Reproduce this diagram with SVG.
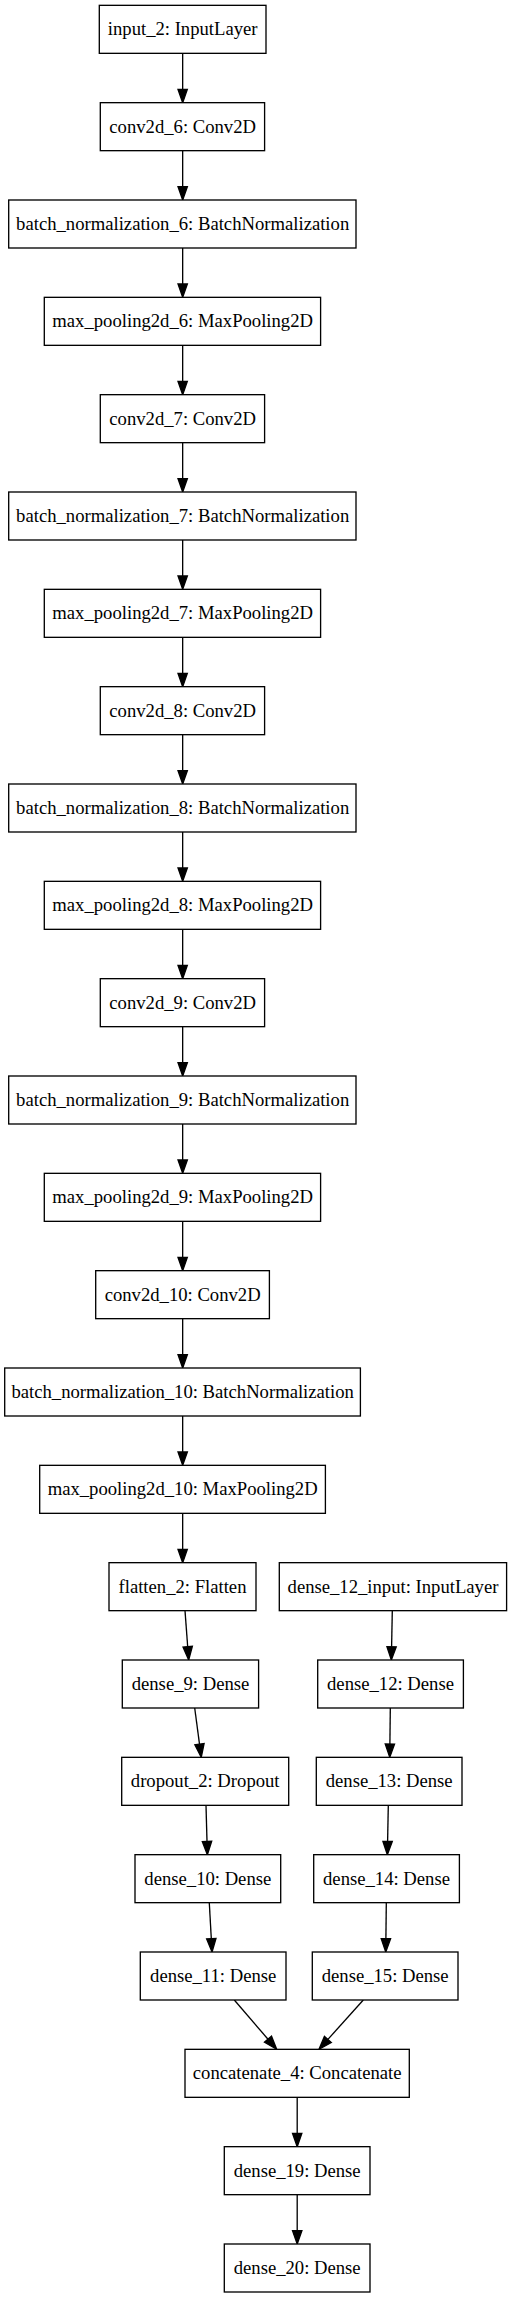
<svg xmlns="http://www.w3.org/2000/svg" width="512" height="2299" viewBox="0 0 512 2299">
<style>
rect.n{fill:#fff;stroke:#000;stroke-width:1.33}
text{font-family:"Liberation Serif","Times New Roman",serif;font-size:18.67px;text-anchor:middle;fill:#000}
.e line{stroke:#000;stroke-width:1.33;marker-end:url(#ah)}
</style>
<defs>
<marker id="ah" markerUnits="userSpaceOnUse" viewBox="0 -5 14 10" refX="0" refY="0" markerWidth="14" markerHeight="10" orient="auto" overflow="visible">
<path d="M0,-4.67 L13.33,0 L0,4.67 z" fill="#000" stroke="#000" stroke-width="1.33"/>
</marker>
</defs>
<rect width="512" height="2299" fill="#fff"/>
<g class="e" id="edges">
<line x1="182.67" y1="53.33" x2="182.67" y2="89.33"/>
<line x1="182.67" y1="150.67" x2="182.67" y2="186.67"/>
<line x1="182.67" y1="248" x2="182.67" y2="284"/>
<line x1="182.67" y1="345.33" x2="182.67" y2="381.33"/>
<line x1="182.67" y1="442.67" x2="182.67" y2="478.67"/>
<line x1="182.67" y1="540" x2="182.67" y2="576"/>
<line x1="182.67" y1="637.33" x2="182.67" y2="673.33"/>
<line x1="182.67" y1="734.67" x2="182.67" y2="770.67"/>
<line x1="182.67" y1="832" x2="182.67" y2="868"/>
<line x1="182.67" y1="929.33" x2="182.67" y2="965.33"/>
<line x1="182.67" y1="1026.67" x2="182.67" y2="1062.67"/>
<line x1="182.67" y1="1124" x2="182.67" y2="1160"/>
<line x1="182.67" y1="1221.33" x2="182.67" y2="1257.33"/>
<line x1="182.67" y1="1318.67" x2="182.67" y2="1354.67"/>
<line x1="182.67" y1="1416" x2="182.67" y2="1452"/>
<line x1="182.67" y1="1513.33" x2="182.67" y2="1549.33"/>
<line x1="185" y1="1610.67" x2="187.7" y2="1646.7"/>
<line x1="194.7" y1="1708" x2="199.5" y2="1744.1"/>
<line x1="206" y1="1805.33" x2="207" y2="1841.4"/>
<line x1="209.3" y1="1902.67" x2="211.3" y2="1938.7"/>
<line x1="234.3" y1="2000" x2="268" y2="2039.2"/>
<line x1="392.3" y1="1610.67" x2="391.6" y2="1646.7"/>
<line x1="390.3" y1="1708" x2="389.9" y2="1744"/>
<line x1="388.3" y1="1805.33" x2="387.6" y2="1841.4"/>
<line x1="386.3" y1="1902.67" x2="385.9" y2="1938.7"/>
<line x1="363.3" y1="2000" x2="327.9" y2="2039.4"/>
<line x1="297.2" y1="2097.33" x2="297.2" y2="2133.33"/>
<line x1="297.2" y1="2194.67" x2="297.2" y2="2230.67"/>
</g>
<g id="input_2"><rect class="n" x="99.3" y="5.33" width="166.7" height="48"/><text x="182.67" y="35.2">input_2: InputLayer</text></g>
<g id="conv2d_6"><rect class="n" x="100.3" y="102.67" width="164.3" height="48"/><text x="182.67" y="132.5">conv2d_6: Conv2D</text></g>
<g id="batch_normalization_6"><rect class="n" x="8.7" y="200" width="347.3" height="48"/><text x="182.67" y="229.9">batch_normalization_6: BatchNormalization</text></g>
<g id="max_pooling2d_6"><rect class="n" x="44.3" y="297.33" width="276.3" height="48"/><text x="182.67" y="327.2">max_pooling2d_6: MaxPooling2D</text></g>
<g id="conv2d_7"><rect class="n" x="100.3" y="394.67" width="164.3" height="48"/><text x="182.67" y="424.5">conv2d_7: Conv2D</text></g>
<g id="batch_normalization_7"><rect class="n" x="8.7" y="492" width="347.3" height="48"/><text x="182.67" y="521.9">batch_normalization_7: BatchNormalization</text></g>
<g id="max_pooling2d_7"><rect class="n" x="44.3" y="589.33" width="276.3" height="48"/><text x="182.67" y="619.2">max_pooling2d_7: MaxPooling2D</text></g>
<g id="conv2d_8"><rect class="n" x="100.3" y="686.67" width="164.3" height="48"/><text x="182.67" y="716.5">conv2d_8: Conv2D</text></g>
<g id="batch_normalization_8"><rect class="n" x="8.7" y="784" width="347.3" height="48"/><text x="182.67" y="813.9">batch_normalization_8: BatchNormalization</text></g>
<g id="max_pooling2d_8"><rect class="n" x="44.3" y="881.33" width="276.3" height="48"/><text x="182.67" y="911.2">max_pooling2d_8: MaxPooling2D</text></g>
<g id="conv2d_9"><rect class="n" x="100.3" y="978.67" width="164.3" height="48"/><text x="182.67" y="1008.5">conv2d_9: Conv2D</text></g>
<g id="batch_normalization_9"><rect class="n" x="8.7" y="1076" width="347.3" height="48"/><text x="182.67" y="1105.9">batch_normalization_9: BatchNormalization</text></g>
<g id="max_pooling2d_9"><rect class="n" x="44.3" y="1173.33" width="276.3" height="48"/><text x="182.67" y="1203.2">max_pooling2d_9: MaxPooling2D</text></g>
<g id="conv2d_10"><rect class="n" x="95.7" y="1270.67" width="173.7" height="48"/><text x="182.67" y="1300.5">conv2d_10: Conv2D</text></g>
<g id="batch_normalization_10"><rect class="n" x="4.7" y="1368" width="355.7" height="48"/><text x="182.67" y="1397.9">batch_normalization_10: BatchNormalization</text></g>
<g id="max_pooling2d_10"><rect class="n" x="39.7" y="1465.33" width="285.7" height="48"/><text x="182.67" y="1495.2">max_pooling2d_10: MaxPooling2D</text></g>
<g id="flatten_2"><rect class="n" x="109" y="1562.67" width="147" height="48"/><text x="182.5" y="1592.5">flatten_2: Flatten</text></g>
<g id="dense_12_input"><rect class="n" x="279.3" y="1562.67" width="227.3" height="48"/><text x="393" y="1592.5">dense_12_input: InputLayer</text></g>
<g id="dense_9"><rect class="n" x="122.3" y="1660" width="136.3" height="48"/><text x="190.5" y="1689.9">dense_9: Dense</text></g>
<g id="dense_12"><rect class="n" x="317.7" y="1660" width="145.7" height="48"/><text x="390.5" y="1689.9">dense_12: Dense</text></g>
<g id="dropout_2"><rect class="n" x="121.7" y="1757.33" width="167" height="48"/><text x="205.2" y="1787.2">dropout_2: Dropout</text></g>
<g id="dense_13"><rect class="n" x="316.3" y="1757.33" width="145.7" height="48"/><text x="389.2" y="1787.2">dense_13: Dense</text></g>
<g id="dense_10"><rect class="n" x="135" y="1854.67" width="145.7" height="48"/><text x="207.8" y="1884.5">dense_10: Dense</text></g>
<g id="dense_14"><rect class="n" x="313.7" y="1854.67" width="145.7" height="48"/><text x="386.5" y="1884.5">dense_14: Dense</text></g>
<g id="dense_11"><rect class="n" x="140.3" y="1952" width="145.7" height="48"/><text x="213.2" y="1981.9">dense_11: Dense</text></g>
<g id="dense_15"><rect class="n" x="312.3" y="1952" width="145.7" height="48"/><text x="385.2" y="1981.9">dense_15: Dense</text></g>
<g id="concatenate_4"><rect class="n" x="185" y="2049.33" width="224.3" height="48"/><text x="297.2" y="2079.2">concatenate_4: Concatenate</text></g>
<g id="dense_19"><rect class="n" x="224.3" y="2146.67" width="145.7" height="48"/><text x="297.2" y="2176.5">dense_19: Dense</text></g>
<g id="dense_20"><rect class="n" x="224.3" y="2244" width="145.7" height="48"/><text x="297.2" y="2273.9">dense_20: Dense</text></g>
</svg>
